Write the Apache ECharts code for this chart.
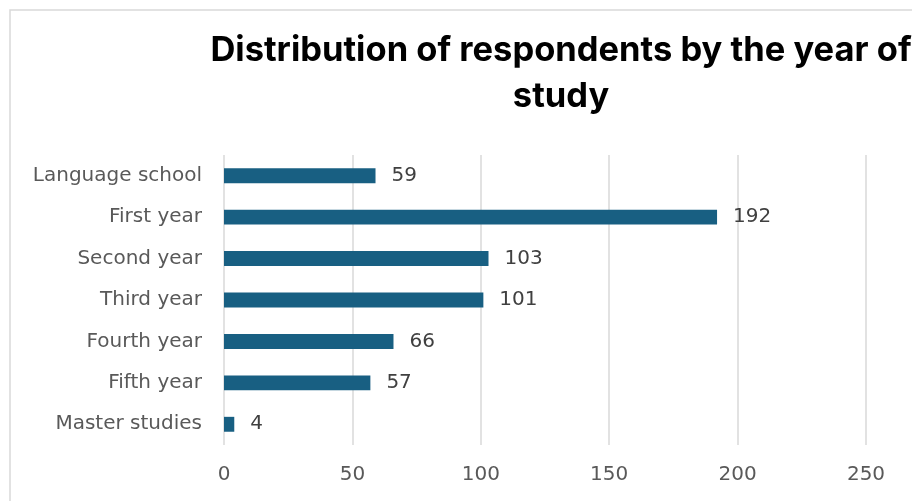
<!DOCTYPE html>
<html>
<head>
<meta charset="utf-8">
<script src="https://cdn.jsdelivr.net/npm/echarts@6/dist/echarts.min.js"></script>
<style>
  html, body { margin: 0; padding: 0; background: #fff; }
  #chart { width: 912px; height: 501px; }
</style>
</head>
<body>
<div id="chart"></div>
<script>
// Respondents per year of study
const categories = ['Language school', 'First year', 'Second year', 'Third year', 'Fourth year', 'Fifth year', 'Master studies'];
const respondents = [59, 192, 103, 101, 66, 57, 4];
const xTicks = [0, 50, 100, 150, 200, 250];

const FONT = 'DejaVu Sans';
const chart = echarts.init(document.getElementById('chart'), null, { renderer: 'canvas' });

chart.setOption({
  backgroundColor: '#ffffff',
  animation: false,
  graphic: [{
    type: 'rect',
    shape: { x: 10, y: 10, width: 920, height: 520 },
    style: { fill: 'none', stroke: '#d9d9d9', lineWidth: 1.5 },
    silent: true, z: -1
  }],
  title: {
    text: 'Distribution of respondents by the year of\nstudy',
    left: 556, top: 23, textAlign: 'center',
    textStyle: { fontFamily: 'Inter', fontSize: 34.5, fontWeight: 'bold', color: '#000', lineHeight: 46 }
  },
  grid: { left: 224, right: 46, top: 155, bottom: 56, containLabel: false },
  xAxis: {
    type: 'value', min: xTicks[0], max: xTicks[xTicks.length - 1], interval: 50,
    axisLine: { show: false }, axisTick: { show: false },
    splitLine: { lineStyle: { color: '#d9d9d9', width: 1.5 } },
    axisLabel: { margin: 20, fontFamily: FONT, fontSize: 20, color: '#595959' }
  },
  yAxis: {
    type: 'category', data: categories, inverse: true,
    axisLine: { show: false }, axisTick: { show: false },
    axisLabel: { margin: 22, fontFamily: FONT, fontSize: 20, color: '#595959' }
  },
  series: [{
    type: 'bar', data: respondents, barWidth: '36%',
    itemStyle: { color: '#185f82' },
    label: { show: true, position: 'right', distance: 16, fontFamily: FONT, fontSize: 20, color: '#404040' }
  }]
});
</script>
</body>
</html>
